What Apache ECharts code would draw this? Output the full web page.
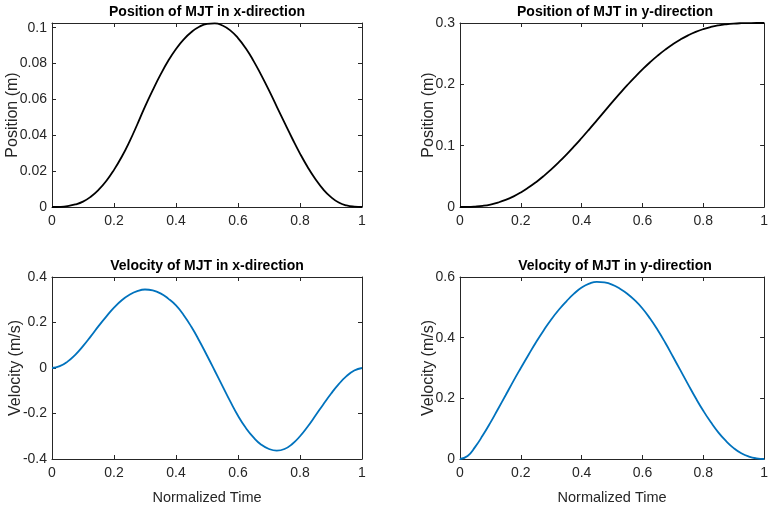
<!DOCTYPE html>
<html><head><meta charset="utf-8">
<script src="https://cdn.jsdelivr.net/npm/echarts@6/dist/echarts.min.js"></script>
<style>html,body{margin:0;padding:0;background:#fff}#c{width:771px;height:507px}</style>
</head><body><div id="c"></div>
<script>
// ---- data (normalized time step 0.025) ----
const t = [0, 0.025, 0.05, 0.075, 0.1, 0.125, 0.15, 0.175, 0.2, 0.225, 0.25, 0.275, 0.3, 0.325, 0.35, 0.375, 0.4, 0.425, 0.45, 0.475,
           0.5, 0.525, 0.55, 0.575, 0.6, 0.625, 0.65, 0.675, 0.7, 0.725, 0.75, 0.775, 0.8, 0.825, 0.85, 0.875, 0.9, 0.925, 0.95, 0.975, 1];
const posX = [0, 0.0001, 0.0005, 0.0014, 0.003, 0.0057, 0.0095, 0.0145, 0.0207, 0.028, 0.0365, 0.046, 0.056, 0.0652, 0.0738, 0.0815, 0.0881, 0.0935, 0.0976, 0.1005,
              0.1021, 0.1024, 0.1012, 0.0985, 0.0942, 0.0885, 0.0815, 0.0735, 0.065, 0.056, 0.047, 0.0382, 0.0298, 0.0222, 0.0155, 0.0098, 0.0055, 0.0025, 0.0009, 0.0002, 0];
const posY = [0, 0.0001, 0.0007, 0.0019, 0.004, 0.0072, 0.0115, 0.017, 0.0237, 0.0316, 0.0405, 0.0504, 0.0613, 0.073, 0.0855, 0.0987, 0.1125, 0.1267, 0.1412, 0.1558,
              0.1705, 0.1848, 0.1986, 0.2118, 0.2243, 0.236, 0.2468, 0.2566, 0.2654, 0.2732, 0.2799, 0.2855, 0.29, 0.2935, 0.2961, 0.2979, 0.2991, 0.2997, 0.2999, 0.3, 0.3];
const velX = [0, 0.008, 0.028, 0.058, 0.096, 0.139, 0.184, 0.226, 0.265, 0.298, 0.322, 0.338, 0.345, 0.341, 0.328, 0.305, 0.275, 0.232, 0.18, 0.12,
              0.055, -0.012, -0.08, -0.147, -0.21, -0.263, -0.305, -0.337, -0.356, -0.363, -0.356, -0.334, -0.300, -0.257, -0.209, -0.160, -0.113, -0.071, -0.036, -0.011, 0];
const velY = [0, 0.01, 0.04, 0.078, 0.12, 0.165, 0.21, 0.256, 0.30, 0.343, 0.385, 0.424, 0.46, 0.492, 0.52, 0.545, 0.565, 0.578, 0.584, 0.582,
              0.575, 0.562, 0.545, 0.523, 0.496, 0.463, 0.425, 0.383, 0.338, 0.292, 0.246, 0.201, 0.159, 0.121, 0.087, 0.059, 0.036, 0.019, 0.008, 0.002, 0];
const titles  = ['Position of MJT in x-direction', 'Position of MJT in y-direction', 'Velocity of MJT in x-direction', 'Velocity of MJT in y-direction'];
const yLabels = ['Position (m)', 'Position (m)', 'Velocity (m/s)', 'Velocity (m/s)'];
const xLabel  = 'Normalized Time';

// ---- layout / style ----
const FONT = "'Liberation Sans', Arial, Helvetica, sans-serif";
const TXT = '#262626';
const panels = [
  {grid:{left:52, top:23, width:310, height:184}, y:posX, color:'#000000', ymin:0, ymax:0.1026, yint:0.02, xname:'', ygap:31},
  {grid:{left:460, top:23, width:310, height:184}, y:posY, color:'#000000', ymin:0, ymax:0.3, yint:0.1, xname:'', ygap:23},
  {grid:{left:52, top:277, width:310, height:182}, y:velX, color:'#0072BD', ymin:-0.4, ymax:0.4, yint:0.2, xname:xLabel, ygap:28},
  {grid:{left:460, top:277, width:310, height:182}, y:velY, color:'#0072BD', ymin:0, ymax:0.6, yint:0.2, xname:xLabel, ygap:23}
];

const xAxes = [], yAxes = [], series = [], graphics = [];
panels.forEach((p, i) => {
  const common = {gridIndex:i, type:'value', splitLine:{show:false},
    axisLine:{show:true, onZero:false, lineStyle:{color:TXT, width:1}},
    axisTick:{show:true, inside:true, length:4, lineStyle:{color:TXT, width:1}}};
  xAxes.push(Object.assign({}, common, {position:'bottom', min:0, max:1, interval:0.2,
    axisLabel:{color:TXT, fontSize:14, fontFamily:FONT, margin:7, formatter:v => String(+v.toFixed(1))},
    name:p.xname, nameLocation:'middle', nameGap:31,
    nameTextStyle:{color:TXT, fontSize:14.5, fontFamily:FONT}}));
  xAxes.push(Object.assign({}, common, {position:'top', min:0, max:1, interval:0.2, axisLabel:{show:false}}));
  const yfmt = v => { const r = v / p.yint; return Math.abs(r - Math.round(r)) < 1e-6 ? String(+v.toFixed(3)) : ''; };
  yAxes.push(Object.assign({}, common, {position:'left', min:p.ymin, max:p.ymax, interval:p.yint,
    axisLabel:{color:TXT, fontSize:14, fontFamily:FONT, margin:5, formatter:yfmt},
    name:yLabels[i], nameLocation:'middle', nameGap:p.ygap, nameMoveOverlap:false,
    nameTextStyle:{color:TXT, fontSize:16, fontFamily:FONT}}));
  yAxes.push(Object.assign({}, common, {position:'right', min:p.ymin, max:p.ymax, interval:p.yint, axisLabel:{show:false}}));
  series.push({type:'line', xAxisIndex:2*i, yAxisIndex:2*i, data:t.map((tv, k) => [tv, p.y[k]]),
    showSymbol:false, smooth:0.5, clip:false, lineStyle:{color:p.color, width:1.8}, itemStyle:{color:p.color}});
  graphics.push({type:'text', x:p.grid.left + p.grid.width / 2, y:p.grid.top - 11,
    style:{text:titles[i], fill:'#000', font:"bold 14px " + FONT, textAlign:'center', textVerticalAlign:'middle'}});
});

const chart = echarts.init(document.getElementById('c'), null, {renderer:'canvas'});
chart.setOption({animation:false, backgroundColor:'#ffffff',
  grid:panels.map(p => Object.assign({containLabel:false}, p.grid)),
  xAxis:xAxes, yAxis:yAxes, series:series, graphic:graphics});
</script></body></html>
